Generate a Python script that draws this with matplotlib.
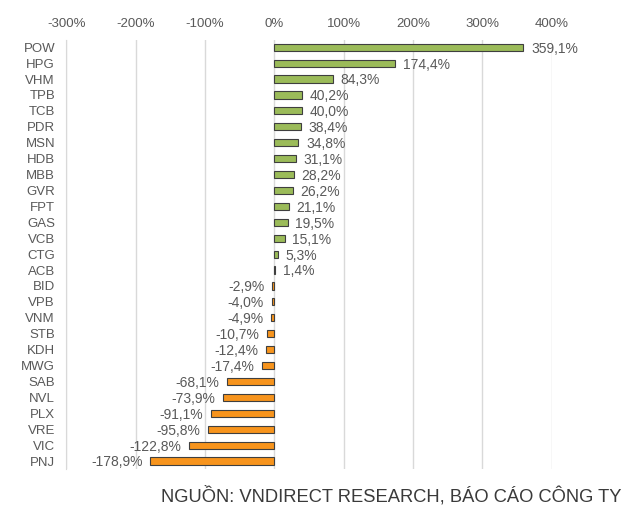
import matplotlib
matplotlib.use("Agg")
import matplotlib.pyplot as plt
from matplotlib.ticker import FuncFormatter

plt.rcParams['font.family'] = ['Liberation Sans', 'DejaVu Sans']

tickers = ["POW", "HPG", "VHM", "TPB", "TCB", "PDR", "MSN", "HDB", "MBB", "GVR",
           "FPT", "GAS", "VCB", "CTG", "ACB", "BID", "VPB", "VNM", "STB", "KDH",
           "MWG", "SAB", "NVL", "PLX", "VRE", "VIC", "PNJ"]
values = [359.1, 174.4, 84.3, 40.2, 40.0, 38.4, 34.8, 31.1, 28.2, 26.2,
          21.1, 19.5, 15.1, 5.3, 1.4, -2.9, -4.0, -4.9, -10.7, -12.4,
          -17.4, -68.1, -73.9, -91.1, -95.8, -122.8, -178.9]
xticks = [-300, -200, -100, 0, 100, 200, 300, 400]
source = "NGUỒN: VNDIRECT RESEARCH, BÁO CÁO CÔNG TY"

n = len(tickers)
fig = plt.figure(figsize=(6.3, 5.2), dpi=100)
ax = fig.add_axes([0.105, 0.098, 0.771, 0.825])

green = "#9BBB59"
orange = "#F7941D"
txt = "#595959"
grid = "#D9D9D9"

ypos = list(range(n))
colors = [green if v >= 0 else orange for v in values]
ax.barh(ypos, values, height=0.45, color=colors, edgecolor="#3F3F3F",
        linewidth=0.8, zorder=3)

for y, v in zip(ypos, values):
    lab = f"{v:.1f}%".replace(".", ",")
    if v >= 0:
        ax.annotate(lab, (v, y), xytext=(5.5, -1), textcoords="offset points",
                    ha="left", va="center", fontsize=10, color=txt)
    else:
        ax.annotate(lab, (v, y), xytext=(-5.5, -1), textcoords="offset points",
                    ha="right", va="center", fontsize=10, color=txt)

ax.set_xlim(-300, 400)
ax.set_ylim(n - 0.5, -0.45)
ax.set_yticks(ypos)
ax.set_yticklabels(tickers)
ax.set_xticks(xticks)
ax.xaxis.set_major_formatter(FuncFormatter(lambda x, p: f"{int(x)}%"))
ax.xaxis.tick_top()
ax.tick_params(axis="x", length=0, pad=7.5, labelsize=9.5, labelcolor=txt)
ax.tick_params(axis="y", length=0, pad=8, labelsize=9.5, labelcolor=txt)
ax.grid(axis="x", color=grid, linewidth=1, zorder=0)
for s in ["top", "right", "bottom"]:
    ax.spines[s].set_visible(False)
ax.spines["left"].set_color(grid)

fig.text(0.987, 0.047, source, ha="right", va="center", fontsize=13.2, color="#3a3a3a")

fig.savefig("out.png", dpi=100)
